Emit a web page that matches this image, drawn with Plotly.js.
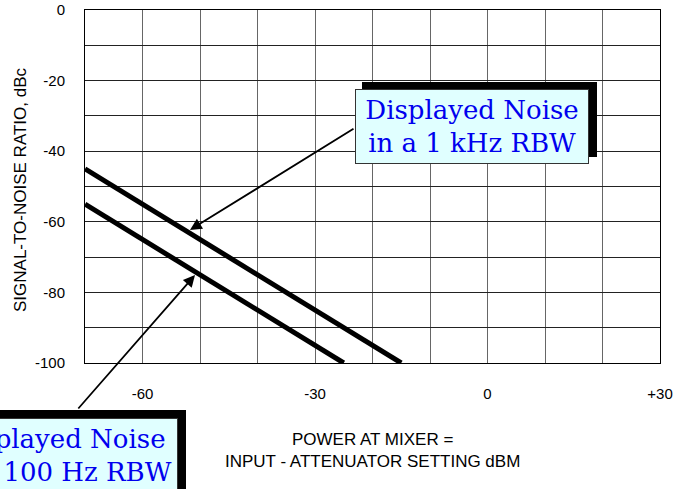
<!DOCTYPE html>
<html>
<head>
<meta charset="utf-8">
<script src="https://cdn.plot.ly/plotly-3.0.1.min.js"></script>
<style>html,body{margin:0;padding:0;background:#fff;}#chart{width:678px;height:489px;}</style>
</head>
<body>
<div id="chart"></div>
<script>
// Data
var power1k = [-70, -15];
var snr1k = [-45, -100];
var power100 = [-70, -25];
var snr100 = [-55, -100];

var xTickVals = [-70, -60, -50, -40, -30, -20, -10, 0, 10, 20, 30];
var xTickText = ['', '-60', '', '', '-30', '', '', '0', '', '', '+30'];
var yTickVals = [0, -10, -20, -30, -40, -50, -60, -70, -80, -90, -100];
var yTickText = ['0', '', '-20', '', '-40', '', '-60', '', '-80', '', '-100'];

var label1k = 'Displayed Noise<br>in a 1 kHz RBW';
var label100 = 'Displayed Noise<br>in a 100 Hz RBW';
var xTitle = 'POWER AT MIXER =<br>INPUT - ATTENUATOR SETTING dBM';
var yTitle = 'SIGNAL-TO-NOISE RATIO, dBc';

// pixel helpers for paper placement (plot area: x 85..660, y 10..363)
function px(x) { return (x - 85) / 575; }
function py(y) { return (363 - y) / 353; }

var traces = [
  {x: power1k, y: snr1k, mode: 'lines', line: {color: '#000', width: 5}, hoverinfo: 'skip'},
  {x: power100, y: snr100, mode: 'lines', line: {color: '#000', width: 5}, hoverinfo: 'skip'}
];

var sansFont = 'Liberation Sans, Arial, sans-serif';
var serifFont = 'DejaVu Serif, serif';

var layout = {
  width: 678, height: 489,
  margin: {l: 85, r: 18, t: 10, b: 126, pad: 0},
  paper_bgcolor: '#fff', plot_bgcolor: '#fff',
  showlegend: false,
  font: {family: sansFont, size: 15, color: '#000'},
  xaxis: {
    range: [-70, 30], tickmode: 'array', tickvals: xTickVals, ticktext: xTickText,
    showgrid: true, gridcolor: '#666', gridwidth: 1, zeroline: false,
    showline: true, linecolor: '#000', linewidth: 1, mirror: true,
    ticks: '', ticklabelstandoff: 17, tickfont: {family: sansFont, size: 15, color: '#000'},
    fixedrange: true
  },
  yaxis: {
    range: [-100, 0], tickmode: 'array', tickvals: yTickVals, ticktext: yTickText,
    showgrid: true, gridcolor: '#222', gridwidth: 1, zeroline: false,
    showline: true, linecolor: '#000', linewidth: 1, mirror: true,
    ticks: '', ticklabelstandoff: 16, tickfont: {family: sansFont, size: 15, color: '#000'},
    fixedrange: true
  },
  shapes: [
    {type: 'rect', xref: 'paper', yref: 'paper', x0: px(362), x1: px(597), y0: py(157), y1: py(82),
     fillcolor: '#000', line: {width: 0}, layer: 'above'},
    {type: 'rect', xref: 'paper', yref: 'paper', x0: px(-56), x1: px(186), y0: py(500), y1: py(410),
     fillcolor: '#000', line: {width: 0}, layer: 'above'}
  ],
  annotations: [
    {xref: 'paper', yref: 'paper', x: px(20), y: py(190), text: yTitle, textangle: -90,
     showarrow: false, xanchor: 'center', yanchor: 'middle', font: {family: sansFont, size: 17, color: '#000'}},
    {xref: 'paper', yref: 'paper', x: 0.5, y: py(450), text: xTitle,
     showarrow: false, xanchor: 'center', yanchor: 'middle', font: {family: sansFont, size: 17, color: '#000'}},
    // arrows
    {xref: 'x', yref: 'y', x: -51.74, y: -62.3, ax: 165, ay: -102, text: '', showarrow: true,
     arrowhead: 2, arrowsize: 1.3, arrowwidth: 1.8, arrowcolor: '#000', standoff: 0, startstandoff: 0},
    {xref: 'x', yref: 'y', x: -50.87, y: -75.07, ax: -118, ay: 135, text: '', showarrow: true,
     arrowhead: 2, arrowsize: 1.3, arrowwidth: 1.8, arrowcolor: '#000', standoff: 0, startstandoff: 0},
    // boxes
    {xref: 'paper', yref: 'paper', x: px(472), y: py(126.5), text: label1k, showarrow: false,
     xanchor: 'center', yanchor: 'middle', width: 232, height: 73, align: 'center', valign: 'middle',
     bgcolor: '#e0ffff', bordercolor: '#333', borderwidth: 1, borderpad: 0,
     font: {family: serifFont, size: 26, color: '#0000ee'}},
    {xref: 'paper', yref: 'paper', x: px(59), y: py(455), text: label100, showarrow: false,
     xanchor: 'center', yanchor: 'middle', width: 236, height: 73, align: 'center', valign: 'middle',
     bgcolor: '#e0ffff', bordercolor: '#333', borderwidth: 1, borderpad: 0,
     font: {family: serifFont, size: 26, color: '#0000ee'}}
  ]
};

Plotly.newPlot('chart', traces, layout, {staticPlot: true, displayModeBar: false});
</script>
</body>
</html>
